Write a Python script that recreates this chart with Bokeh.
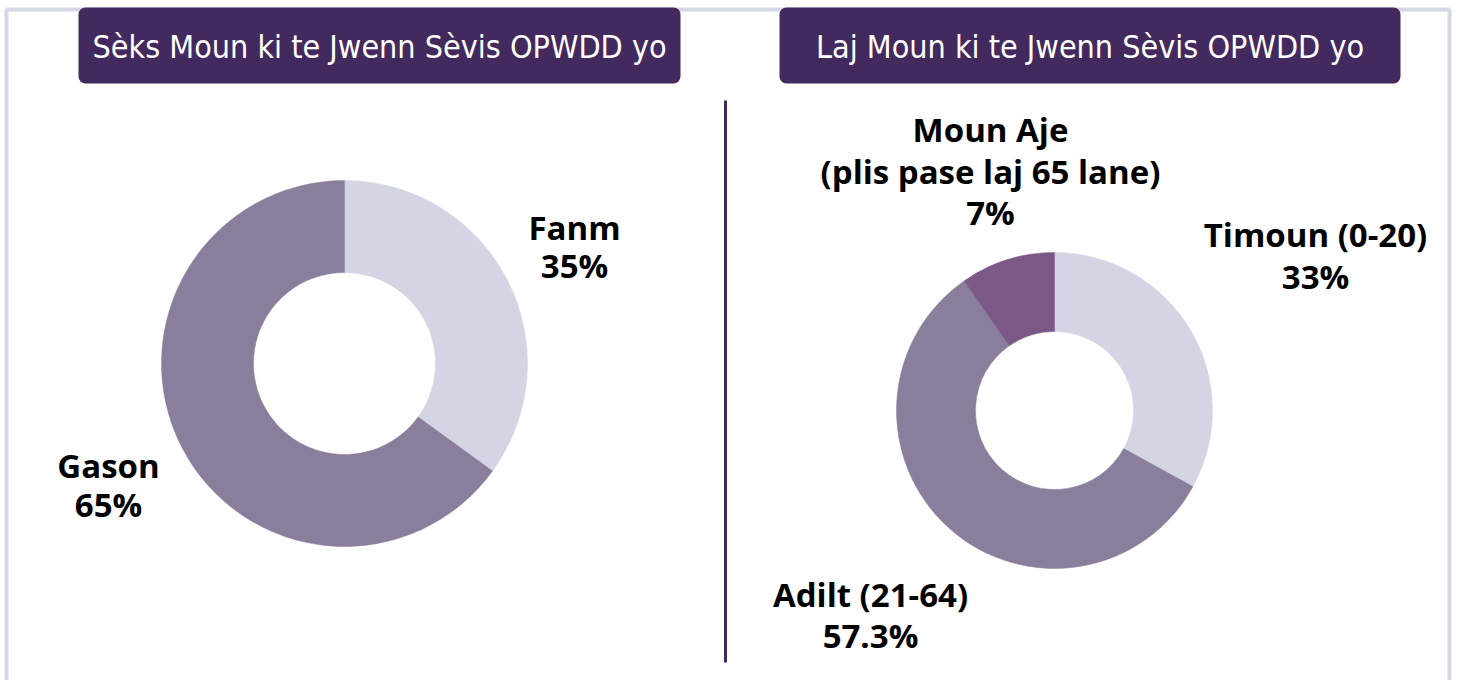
import math
from bokeh.plotting import figure
from bokeh.models import Range1d, ColumnDataSource
from bokeh.core.properties import value
from bokeh.embed import file_html
from bokeh.resources import INLINE

# ---- data ----
sex_labels = ["Fanm", "Gason"]
sex_values = [35, 65]
sex_pct = ["35%", "65%"]

age_labels = ["Timoun (0-20)", "Adilt (21-64)", "Moun Aje\n(plis pase laj 65 lane)"]
age_values = [33, 57.3, 9.7]
age_pct = ["33%", "57.3%", "7%"]

titles = ["Sèks Moun ki te Jwenn Sèvis OPWDD yo", "Laj Moun ki te Jwenn Sèvis OPWDD yo"]

colors_sex = ["#d4d5e4", "#8a7e9d"]
colors_age = ["#d4d5e4", "#8a7e9d", "#7b5885"]

PURPLE = "#432a5e"

W_FIG, H_FIG = 1452, 680
H = H_FIG  # data y = H - image_y
p = figure(width=W_FIG, height=H_FIG, output_backend="svg", toolbar_location=None,
           x_range=Range1d(0, W_FIG), y_range=Range1d(0, H_FIG),
           min_border=0, background_fill_color="white", border_fill_color="white")
p.axis.visible = False
p.grid.visible = False
p.outline_line_color = None

def Y(img_y):
    return H - img_y

# outer frame
p.quad(left=6, right=1449, top=Y(9), bottom=Y(720), fill_color=None,
       line_color="#d5d6e6", line_width=4)

# title boxes
boxes = [(78, 680), (779, 1400)]
for (l, r), t in zip(boxes, titles):
    p.quad(left=l, right=r, top=Y(7), bottom=Y(83), fill_color=PURPLE, line_color=None,
           border_radius=7)
    p.text(x=[(l + r) / 2], y=[Y(46)], text=[t], text_color="white",
           text_font=value("DejaVu Sans Condensed"), text_font_size="32px",
           text_align="center", text_baseline="middle")

# divider
p.segment(x0=[725], y0=[Y(100)], x1=[725], y1=[Y(662)], line_color=PURPLE, line_width=3)

def donut(cx, cy, r_in, r_out, vals, cols):
    total = sum(vals)
    starts, ends = [], []
    cum = 0.0
    for v in vals:
        starts.append(math.pi / 2 - cum / total * 2 * math.pi)
        cum += v
        ends.append(math.pi / 2 - cum / total * 2 * math.pi)
    src = ColumnDataSource(dict(x=[cx] * len(vals), y=[Y(cy)] * len(vals),
                                s=starts, e=ends, c=cols))
    p.annular_wedge(x="x", y="y", inner_radius=r_in, outer_radius=r_out,
                    start_angle="s", end_angle="e", direction="clock",
                    fill_color="c", line_color="c", line_width=0.5, source=src)

donut(344, 363, 91, 183, sex_values, colors_sex)
donut(1054, 410, 79, 158, age_values, colors_age)

FONT = value("Open Sans")
def label(cx, baselines, lines):
    p.text(x=[cx] * len(lines), y=[Y(b - 12) for b in baselines], text=lines,
           text_font=FONT, text_font_style="bold", text_font_size="33px",
           text_color="#000000", text_align="center", text_baseline="alphabetic")

label(574, [239, 277], [sex_labels[0], sex_pct[0]])
label(108, [477, 516], [sex_labels[1], sex_pct[1]])
label(1315, [246, 288], [age_labels[0], age_pct[0]])
label(870, [606, 647], [age_labels[1], age_pct[1]])
aje_lines = age_labels[2].split("\n")
label(990, [141, 183, 224], aje_lines + [age_pct[2]])

open("out.html", "w").write(file_html(p, INLINE))
